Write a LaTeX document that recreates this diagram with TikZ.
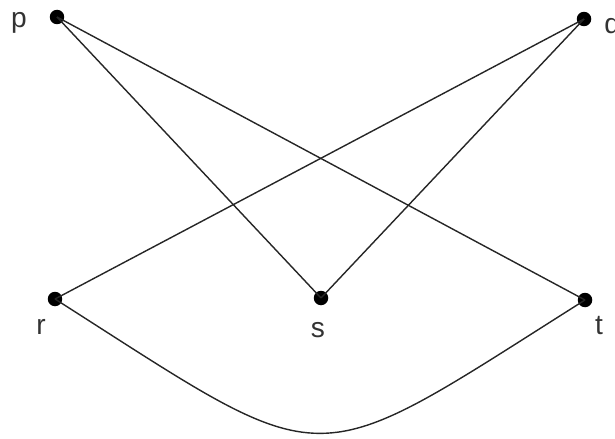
\documentclass[tikz,border=0pt]{standalone}
\usepackage{fontspec}
\setmainfont{Liberation Sans}
\usetikzlibrary{positioning}

\begin{document}
\begin{tikzpicture}[
    x=0.02cm, y=-0.02cm,
    dot/.style={circle, fill=black, inner sep=0pt, minimum size=0.29cm},
    lbl/.style={font=\fontsize{16}{18}\selectfont, inner sep=0pt, text=black!80},
    edge/.style={draw=black!85, line width=0.8pt}
]
\useasboundingbox (0,0) rectangle (615,439);
% vertices
\node[dot] (p) at (57,17) {};
\node[dot] (q) at (584,19) {};
\node[dot] (r) at (55,299) {};
\node[dot] (s) at (321,298) {};
\node[dot] (t) at (585,300) {};
% labels
\node[lbl] (pl) at (19,23) {p};
\node[lbl, anchor=west] (ql) at (604,29) {q};
\node[lbl] (rl) at (41,327) {r};
\node[lbl] (sl) at (318,330) {s};
\node[lbl] (tl) at (599,326) {t};
% edges
\draw[edge] (p.center) -- (s.center);
\draw[edge] (p.center) -- (t.center);
\draw[edge] (q.center) -- (r.center);
\draw[edge] (q.center) -- (s.center);
\draw[edge] (r.center) .. controls (336,478) and (303,478) .. (t.center);
\end{tikzpicture}
\end{document}
